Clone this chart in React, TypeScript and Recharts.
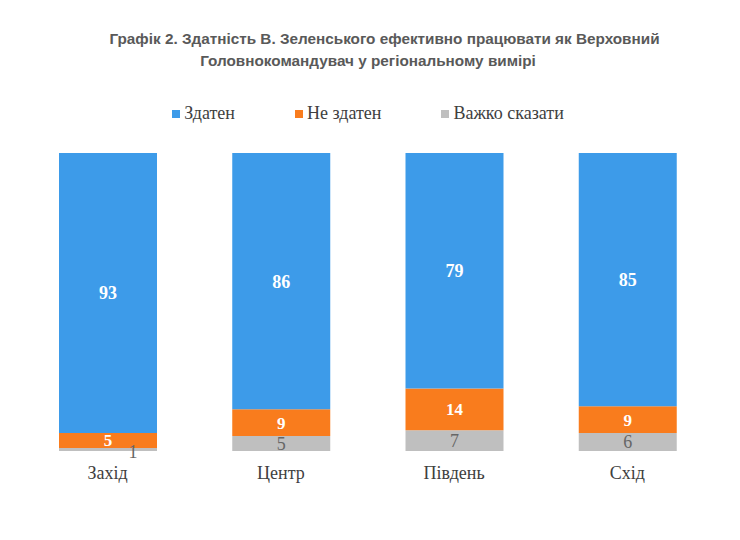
import React from 'react'
import { BarChart, Bar, XAxis, YAxis, LabelList } from 'recharts'

const regions = ['Захід', 'Центр', 'Південь', 'Схід']
const capable = [93, 86, 79, 85]
const notCapable = [5, 9, 14, 9]
const hardToSay = [1, 5, 7, 6]

const seriesNames = ['Здатен', 'Не здатен', 'Важко сказати']
const colors = ['#3d9be9', '#f97c1d', '#bfbfbf']

const data = regions.map((r, i) => ({
    region: r,
    capable: capable[i],
    notCapable: notCapable[i],
    hardToSay: hardToSay[i],
}))

const serif = '"Liberation Serif", "Times New Roman", serif'

function Legend() {
    return (
        <div style={{ position: 'absolute', top: 103, left: 0, width: 740, display: 'flex', justifyContent: 'center', gap: 60, fontFamily: serif, fontSize: 18, color: '#404040', marginLeft: -2 }}>
            {seriesNames.map((n, i) => (
                <div key={n} style={{ display: 'flex', alignItems: 'center' }}>
                    <span style={{ display: 'inline-block', width: 8, height: 8, background: colors[i], marginRight: 4 }} />
                    <span>{n}</span>
                </div>
            ))}
        </div>
    )
}

// small gray segments get their label nudged down-right, as in the source
function GrayLabel(props: any) {
    const { x, y, width, height, value } = props
    const small = height < 8
    const cx = x + width / 2 + (small ? 25 : 0)
    const cy = y + height / 2 + (small ? 3 : 0)
    return (
        <text x={cx} y={cy} textAnchor="middle" dominantBaseline="central" style={{ fontFamily: serif, fontSize: 18, fill: '#666' }}>
            {value}
        </text>
    )
}

export default function App() {
    return (
        <div style={{ position: 'absolute', left: 0, top: 0, width: 740, height: 540, background: '#fff' }}>
            <div style={{ position: 'absolute', top: 28, left: 0, width: 740, fontFamily: '"Liberation Sans", Arial, sans-serif', fontWeight: 'bold', fontSize: 15.3, color: '#595959', lineHeight: '22px' }}>
                <div style={{ textAlign: 'center', marginLeft: 29 }}>Графік 2. Здатність В. Зеленського ефективно працювати як Верховний</div>
                <div style={{ textAlign: 'center', marginLeft: -4 }}>Головнокомандувач у регіональному вимірі</div>
            </div>
            <Legend />
            <BarChart
                width={740}
                height={540}
                data={data}
                stackOffset="expand"
                margin={{ top: 153, right: 26, bottom: 59, left: 21 }}
                barSize={98}
                style={{ position: 'absolute', top: 0, left: 0 }}
            >
                <XAxis
                    dataKey="region"
                    axisLine={false}
                    tickLine={false}
                    height={30}
                    tickMargin={9}
                    tick={{ fontFamily: serif, fontSize: 18, fill: '#404040' }}
                />
                <YAxis hide domain={[0, 1]} />
                <Bar dataKey="hardToSay" stackId="a" fill={colors[2]} isAnimationActive={false}>
                    <LabelList dataKey="hardToSay" content={GrayLabel} />
                </Bar>
                <Bar dataKey="notCapable" stackId="a" fill={colors[1]} isAnimationActive={false}>
                    <LabelList dataKey="notCapable" position="center" style={{ fontFamily: serif, fontSize: 17, fontWeight: 'bold', fill: '#fff' }} />
                </Bar>
                <Bar dataKey="capable" stackId="a" fill={colors[0]} isAnimationActive={false}>
                    <LabelList dataKey="capable" position="center" style={{ fontFamily: serif, fontSize: 18, fontWeight: 'bold', fill: '#fff' }} />
                </Bar>
            </BarChart>
        </div>
    )
}
